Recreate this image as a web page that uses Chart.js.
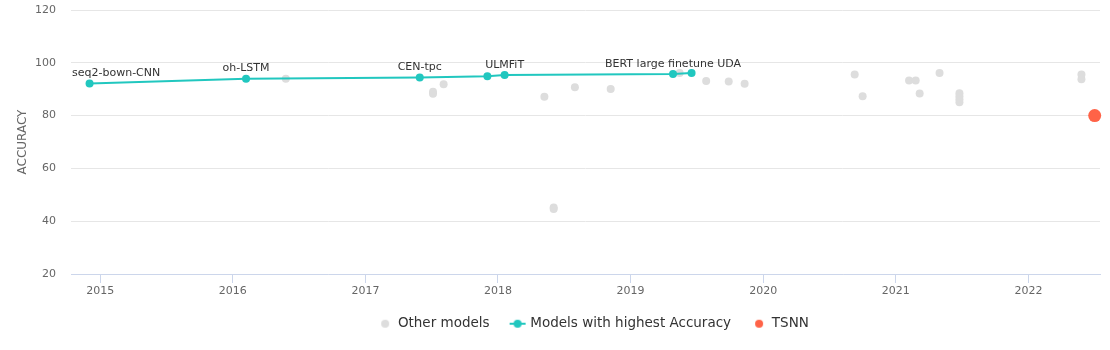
<!DOCTYPE html>
<html><head><meta charset="utf-8">
<script src="https://cdn.jsdelivr.net/npm/chart.js@4.4.0/dist/chart.umd.min.js"></script>
<style>html,body{margin:0;padding:0;background:#fff}canvas{display:block}</style>
</head><body>
<canvas id="c" width="1110" height="350"></canvas>
<script>
// ---- data ----
const YEAR_TICKS = [2015, 2016, 2017, 2018, 2019, 2020, 2021, 2022];
const ACC_TICKS = [20, 40, 60, 80, 100, 120];

const otherYears = [2016.40, 2017.51, 2017.51, 2017.59, 2018.35, 2018.42, 2018.42, 2018.58, 2018.85,
  2019.37, 2019.57, 2019.74, 2019.86, 2020.69, 2020.75, 2021.10, 2021.15, 2021.18, 2021.33,
  2021.48, 2021.48, 2021.48, 2021.48, 2022.40, 2022.40];
const otherAcc = [94.0, 89.0, 88.3, 91.9, 87.1, 45.2, 44.6, 90.7, 90.1,
  96.1, 93.1, 92.9, 92.1, 95.6, 87.3, 93.3, 93.3, 88.4, 96.1,
  88.5, 87.3, 86.2, 85.1, 95.6, 93.8];

const bestYears = [2014.92, 2016.10, 2017.41, 2017.92, 2018.05, 2019.32, 2019.46];
const bestAcc = [92.2, 94.0, 94.4, 94.9, 95.4, 95.8, 96.1];
const bestNames = ['seq2-bown-CNN', 'oh-LSTM', 'CEN-tpc', '', 'ULMFiT', 'BERT large finetune UDA', ''];

const tsnnYears = [2022.50];
const tsnnAcc = [80.0];

const SERIES_NAMES = ['TSNN', 'Models with highest Accuracy', 'Other models'];

// ---- styles ----
const GRAY = '#dddddd', TEAL = '#21c7bf', RED = '#ff6347';
const FONT = '"DejaVu Sans", Verdana, sans-serif';

const pts = (xs, ys) => xs.map((x, i) => ({ x, y: ys[i] }));

function dotImg(color, r) {
  const c = document.createElement('canvas');
  c.width = c.height = 2 * r + 2;
  const g = c.getContext('2d');
  g.fillStyle = color; g.beginPath(); g.arc(r + 1, r + 1, r, 0, Math.PI * 2); g.fill();
  return c;
}
function lineDotImg(color) {
  const c = document.createElement('canvas');
  c.width = 18; c.height = 10;
  const g = c.getContext('2d');
  g.strokeStyle = color; g.lineWidth = 2;
  g.beginPath(); g.moveTo(1, 5); g.lineTo(17, 5); g.stroke();
  g.fillStyle = color; g.beginPath(); g.arc(9, 5, 4, 0, Math.PI * 2); g.fill();
  return c;
}
const legendImgs = [dotImg(RED, 4), lineDotImg(TEAL), dotImg(GRAY, 4)];

const labelPlugin = {
  id: 'bestLabels',
  afterDatasetsDraw(chart) {
    const meta = chart.getDatasetMeta(1);
    const ctx = chart.ctx, area = chart.chartArea;
    ctx.save();
    ctx.font = '11px ' + FONT;
    ctx.fillStyle = '#333333';
    ctx.textBaseline = 'middle';
    ctx.textAlign = 'left';
    meta.data.forEach((el, i) => {
      const t = bestNames[i];
      if (!t) return;
      const w = ctx.measureText(t).width;
      let left = el.x - w / 2;
      if (left < area.left + 1) left = area.left + 1;
      if (left + w > area.right) left = area.right - w;
      ctx.fillText(t, left, el.y - 10);
    });
    ctx.restore();
  }
};

const layoutPlugin = {
  id: 'legendFix',
  beforeLayout(chart) {
    const lg = chart.legend;
    if (lg && !lg._patched) {
      const orig = lg.fit.bind(lg);
      lg.fit = function () { orig(); this.height = 55; };
      lg._patched = true;
    }
  },
  afterLayout(chart) {
    const lg = chart.legend;
    if (lg) { lg.left += 44; lg.right += 44; }
  }
};

new Chart(document.getElementById('c'), {
  type: 'scatter',
  data: {
    datasets: [
      { label: SERIES_NAMES[0], data: pts(tsnnYears, tsnnAcc), backgroundColor: RED,
        pointRadius: 6.5, pointBorderWidth: 0, clip: false },
      { label: SERIES_NAMES[1], data: pts(bestYears, bestAcc), showLine: true,
        borderColor: TEAL, backgroundColor: TEAL, borderWidth: 2,
        pointRadius: 4, pointBorderWidth: 0, clip: false },
      { label: SERIES_NAMES[2], data: pts(otherYears, otherAcc), backgroundColor: GRAY,
        pointRadius: 4, pointBorderWidth: 0, clip: false }
    ]
  },
  options: {
    responsive: false,
    animation: false,
    events: [],
    layout: { padding: { left: 0, right: 10, top: 10, bottom: 0 } },
    scales: {
      x: {
        type: 'linear',
        min: 2014.78, max: 2022.54,
        afterBuildTicks: s => { s.ticks = YEAR_TICKS.map(v => ({ value: v })); },
        afterFit: s => { s.height = 21; },
        grid: { drawOnChartArea: false, drawTicks: true, tickLength: 9, color: '#ccd6eb', lineWidth: 1 },
        border: { display: true, color: '#ccd6eb', width: 1 },
        ticks: { color: '#666666', font: { family: FONT, size: 11 }, padding: 2, maxRotation: 0,
          callback: v => String(v) }
      },
      y: {
        min: 20, max: 120,
        afterBuildTicks: s => { s.ticks = ACC_TICKS.map(v => ({ value: v })); },
        afterFit: s => { s.width = 71; s.paddingTop = 0; s.paddingBottom = 0; },
        grid: { color: '#e6e6e6', drawTicks: false, lineWidth: 1 },
        border: { display: false },
        ticks: { color: '#666666', font: { family: FONT, size: 11 }, padding: 15 },
        title: { display: true, text: 'ACCURACY', color: '#666666',
          font: { family: FONT, size: 12 }, padding: { top: 16, bottom: 0 } }
      }
    },
    plugins: {
      tooltip: { enabled: false },
      legend: {
        position: 'bottom',
        reverse: true,
        labels: {
          usePointStyle: true, boxWidth: 12, boxHeight: 12, padding: 22,
          color: '#333333', font: { family: FONT, size: 13.5 },
          generateLabels: chart => {
            const items = Chart.defaults.plugins.legend.labels.generateLabels(chart);
            items.forEach(it => { it.pointStyle = legendImgs[it.datasetIndex]; });
            return items;
          }
        }
      }
    }
  },
  plugins: [labelPlugin, layoutPlugin]
});
</script>
</body></html>
